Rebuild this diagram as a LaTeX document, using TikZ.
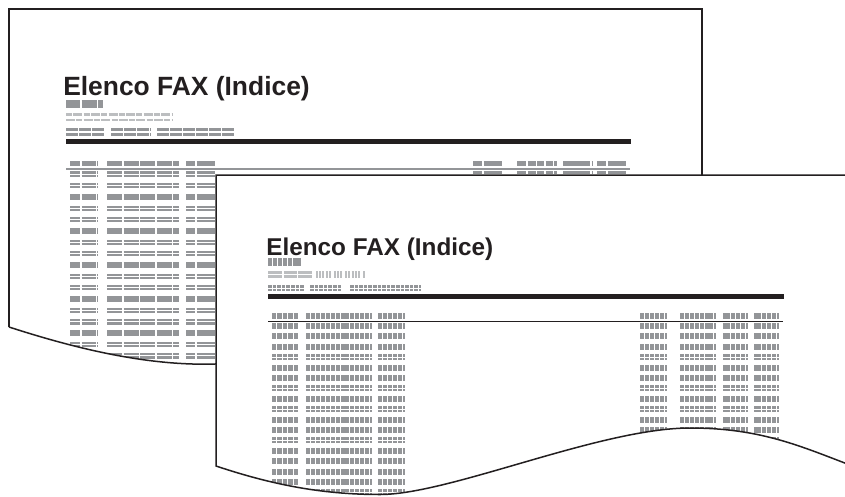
\documentclass[tikz,border=0pt]{standalone}
\usepackage{fontspec}
\setmainfont{Liberation Sans}
\definecolor{ink}{HTML}{231F20}
\definecolor{gbar}{HTML}{939598}
\definecolor{lbar}{HTML}{BCBEC0}
\tikzset{
  pageline/.style={draw=ink, line width=1.5pt, line join=miter},
  titlefont/.style={anchor=base west, inner sep=0pt, text=ink, font=\fontsize{#1}{#1}\selectfont\bfseries},
  bc1/.style={gbar, dash pattern=on 10pt off 1.5pt on 14pt off 1.5pt on 1.5pt off 20pt},
  bc2/.style={gbar, dash pattern=on 15pt off 1.5pt},
  bc3/.style={gbar, dash pattern=on 9pt off 1.5pt on 40pt off 5pt},
  bc4/.style={gbar, dash pattern=on 9pt off 1.5pt on 18.5pt off 5pt},
  bc5/.style={gbar, dash pattern=on 9pt off 1.5pt on 8pt off 1.5pt on 7pt off 1.5pt on 7pt off 1.5pt on 3pt off 9pt},
  bc6/.style={gbar, dash pattern=on 27pt off 1.5pt on 1.5pt off 10pt},
  bc7/.style={gbar, dash pattern=on 9pt off 1.5pt on 18.5pt off 5pt},
  fc1/.style={gbar, dash pattern=on 4.4pt off 1pt},
  fc2/.style={gbar, dash pattern=on 4pt off 1pt on 4pt off 1pt on 4pt off 1pt on 4pt off 1pt on 4pt off 1pt on 4pt off 1pt on 4pt off 1pt on 8pt off 1pt on 4pt off 1pt on 4pt off 1pt on 4pt off 1pt on 4pt off 1pt on 2pt off 10pt},
  fc3/.style={gbar, dash pattern=on 4pt off 1pt on 4pt off 1pt on 4pt off 1pt on 4pt off 1pt on 4pt off 1.2pt on 1.8pt off 10pt},
  fc5/.style={gbar, dash pattern=on 4pt off 1pt on 4pt off 1pt on 4pt off 1pt on 4pt off 1pt on 4pt off 1pt on 8pt off 1pt on 2pt off 10pt},
  fc6/.style={gbar, dash pattern=on 7pt off 1pt on 4pt off 1pt on 4pt off 1pt on 4pt off 1.2pt on 2pt off 10pt},
}
% #1 type (0 solid, 1 double), #2 x1, #3 x2, #4 y centre, #5 style, #6 height
\newcommand{\segbar}[6]{%
  \ifnum#1=0\relax
    \draw[#5, line width=#6pt] (#2,#4) -- (#3,#4);
  \else
    \draw[#5, line width=0.4*#6pt] (#2,#4-0.3*#6) -- (#3,#4-0.3*#6);
    \draw[#5, line width=0.4*#6pt] (#2,#4+0.3*#6) -- (#3,#4+0.3*#6);
  \fi}
\newcommand{\backrowL}[2]{%
  \segbar{#1}{70}{98}{#2}{bc1}{5.5}%
  \segbar{#1}{107}{179}{#2}{bc2}{5.5}%
  \segbar{#1}{186}{215}{#2}{bc3}{5.5}}
\newcommand{\backrowR}[2]{%
  \segbar{#1}{473}{502}{#2}{bc4}{5.5}%
  \segbar{#1}{517}{557}{#2}{bc5}{5.5}%
  \segbar{#1}{563}{593}{#2}{bc6}{5.5}%
  \segbar{#1}{597}{626}{#2}{bc7}{5.5}}
\newcommand{\frontrow}[2]{%
  \segbar{#1}{272}{298}{#2}{fc1}{6}%
  \segbar{#1}{306}{372}{#2}{fc2}{6}%
  \segbar{#1}{378}{405}{#2}{fc3}{6}%
  \segbar{#1}{640}{667}{#2}{fc3}{6}%
  \segbar{#1}{680}{716}{#2}{fc5}{6}%
  \segbar{#1}{723}{749}{#2}{fc6}{6}%
  \segbar{#1}{754}{780}{#2}{fc6}{6}}
\begin{document}
\begin{tikzpicture}[x=1pt, y=-1pt]
\useasboundingbox (0,0) rectangle (845,496);
\fill[white] (0,0) rectangle (845,496);

% ---------------- back page ----------------
\fill[white] (9,327) -- (9,9) -- (702,9) -- (702,364) -- (215,364)
  .. controls (150,366) and (80,350) .. (9,327) -- cycle;
\begin{scope}
  \clip (9,327) -- (9,9) -- (702,9) -- (702,364) -- (215,364)
    .. controls (150,366) and (80,350) .. (9,327) -- cycle;
  \node[titlefont=26.4] (backtitle) at (63.1,95.5) {Elenco FAX (Indice)};
  % sub lines
  \draw[gbar, line width=8pt, dash pattern=on 14pt off 1.5pt on 15pt off 1.5pt on 6pt off 10pt] (66,104) -- (103,104);
  \draw[lbar, line width=2.6pt, dash pattern=on 6pt off 1.3pt on 9pt off 1.3pt] (66,114.6) -- (173,114.6);
  \draw[lbar, line width=2.6pt, dash pattern=on 9pt off 1.3pt on 6pt off 1.3pt] (66,119.8) -- (173,119.8);
  \foreach \a/\b in {66/105,111/151,157/234}{
    \draw[gbar, line width=3pt, dash pattern=on 12pt off 1pt] (\a,129.8) -- (\b,129.8);
    \draw[gbar, line width=3pt, dash pattern=on 12pt off 1pt] (\a,134.3) -- (\b,134.3);
  }
  \fill[ink] (66,139) rectangle (631,144);
  % table header
  \backrowL{0}{163.3}
  \backrowR{0}{163.3}
  \draw[gbar, line width=1.5pt] (66,169.2) -- (630,169.2);
  \backrowR{1}{174.2}
  \foreach \t [count=\i from 0] in {1,1,0,1,1,0,1,1,0,1,1,0,1,1,0,1,1,0}{
    \pgfmathsetmacro\yy{174.2+11.35*\i}
    \backrowL{\t}{\yy}
  }
\end{scope}
\draw[pageline] (9,327) -- (9,9) -- (702,9) -- (702,200);
\draw[pageline] (9,327) .. controls (80,350) and (150,366) .. (215,364) -- (260,362);

% ---------------- front page ----------------
\fill[white] (216,466) -- (216,175) -- (850,175) -- (850,465)
  .. controls (800,446) and (760,428) .. (690,428)
  .. controls (600,428) and (450,494.5) .. (380,494.5)
  .. controls (320,494.5) and (270,484) .. (216,466) -- cycle;
\begin{scope}
  \clip (216,466) -- (216,175) -- (850,175) -- (850,465)
    .. controls (800,446) and (760,428) .. (690,428)
    .. controls (600,428) and (450,494.5) .. (380,494.5)
    .. controls (320,494.5) and (270,484) .. (216,466) -- cycle;
  \node[titlefont=24.3] (fronttitle) at (266.2,255) {Elenco FAX (Indice)};
  \draw[gbar, line width=8pt, dash pattern=on 4pt off 1pt on 4pt off 1pt on 4pt off 1pt on 4pt off 1pt on 4pt off 1pt on 10pt off 10pt] (268,262) -- (301,262);
  \draw[lbar, line width=3pt, dash pattern=on 14pt off 1.5pt on 13pt off 1.5pt on 15pt off 3pt] (268,272) -- (312,272);
  \draw[lbar, line width=3pt, dash pattern=on 14pt off 1.5pt on 13pt off 1.5pt on 15pt off 3pt] (268,276.4) -- (312,276.4);
  \draw[lbar, line width=7pt, dash pattern=on 2pt off 1.2pt on 2pt off 1.2pt on 2pt off 1.2pt on 2pt off 1.2pt on 2pt off 3pt on 2pt off 1.2pt on 2pt off 1.2pt on 2pt off 3pt] (316,274.2) -- (366,274.2);
  \foreach \a/\b in {268/304,310/341,350/421}{
    \draw[gbar, line width=2.6pt, dash pattern=on 3.6pt off 1pt] (\a,286.4) -- (\b,286.4);
    \draw[gbar, line width=2.6pt, dash pattern=on 3.6pt off 1pt] (\a,290) -- (\b,290);
  }
  \fill[ink] (268,294) rectangle (784,299);
  \frontrow{0}{316}
  \draw[ink, line width=1pt] (268,321.3) -- (783,321.3);
  \foreach \t [count=\i from 0] in {0,0,0,1,0,0,1,0,1,0,0,1,0,0,0,0,1}{
    \pgfmathsetmacro\yy{326+10.4*\i}
    \frontrow{\t}{\yy}
  }
\end{scope}
\draw[pageline] (850,175) -- (216,175) -- (216,466)
  .. controls (270,484) and (320,494.5) .. (380,494.5)
  .. controls (450,494.5) and (600,428) .. (690,428)
  .. controls (760,428) and (800,446) .. (850,465);
\end{tikzpicture}
\end{document}
